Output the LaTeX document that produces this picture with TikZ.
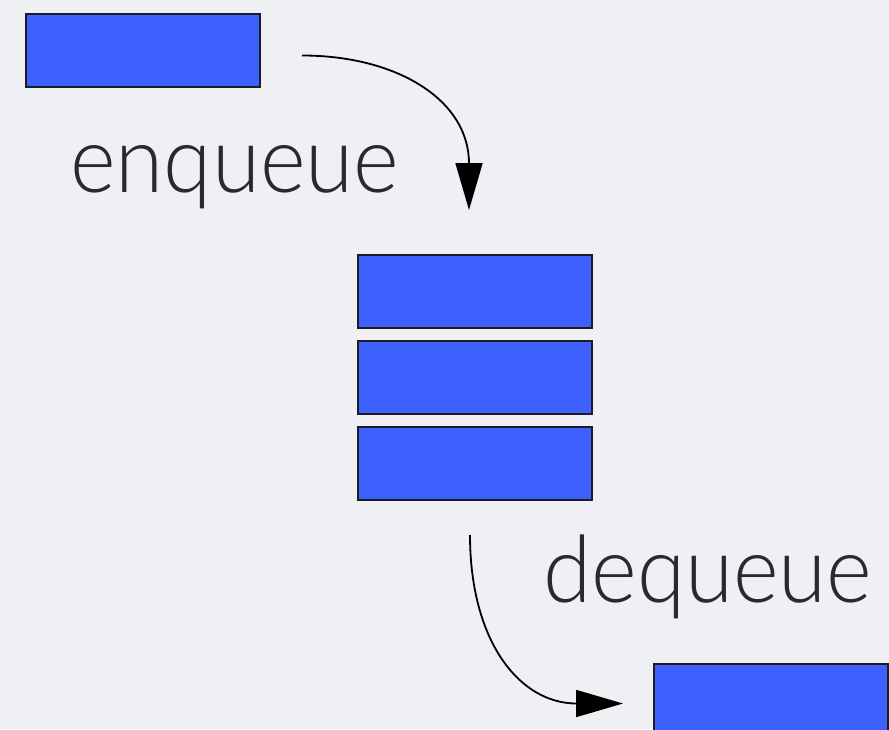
\documentclass[tikz,border=0pt]{standalone}
\usepackage{fontspec}
\usetikzlibrary{arrows.meta,calc}
\newfontfamily\lblfont{Lato Light}[FakeStretch=0.94]
\definecolor{bgcol}{RGB}{239,240,244}
\definecolor{itemblue}{RGB}{62,96,252}
\definecolor{edgecol}{RGB}{28,28,36}
\definecolor{txtcol}{RGB}{42,42,42}
\tikzset{
  item/.style={rectangle, draw=edgecol, fill=itemblue, line width=2pt,
               minimum width=234pt, minimum height=73pt, inner sep=0pt, anchor=north west},
  arr/.style={draw=black, line width=1.8pt, -{Triangle[length=47pt,width=27pt]}},
  lbl/.style={text=txtcol, inner sep=0pt, anchor=base west, font=\lblfont\fontsize{93}{100}\selectfont}
}
\begin{document}
\begin{tikzpicture}[x=1pt,y=-1pt]
  \fill[bgcol] (0,0) rectangle (889,729);
  \useasboundingbox (0,0) rectangle (889,729);
  \clip (0,0) rectangle (889,729);

  % incoming item
  \node[item] (inItem) at (25,13) {};
  % queue contents
  \node[item] (q1) at (357,254) {};
  \node[item] (q2) at (357,340) {};
  \node[item] (q3) at (357,426) {};
  % outgoing item
  \node[item] (outItem) at (653,663) {};

  % labels
  \node[lbl] (enq) at (70,192) {enqueue};
  \node[lbl] (deq) at (543,602) {dequeue};

  % arrow end points
  \coordinate (enqS) at ($(inItem.east)+(41,5)$);
  \coordinate (enqE) at ($(q1.north)+(-6,-44)$);
  \coordinate (deqS) at ($(q3.south)+(-5,34)$);
  \coordinate (deqE) at ($(outItem.west)+(-30,3)$);

  \draw[arr] (enqS) .. controls ($(enqS)+(95,0)$) and ($(enqE)+(0,-110)$) .. (enqE);
  \draw[arr] (deqS) .. controls ($(deqS)+(0,107)$) and ($(deqE)+(-103,0)$) .. (deqE);
\end{tikzpicture}
\end{document}
